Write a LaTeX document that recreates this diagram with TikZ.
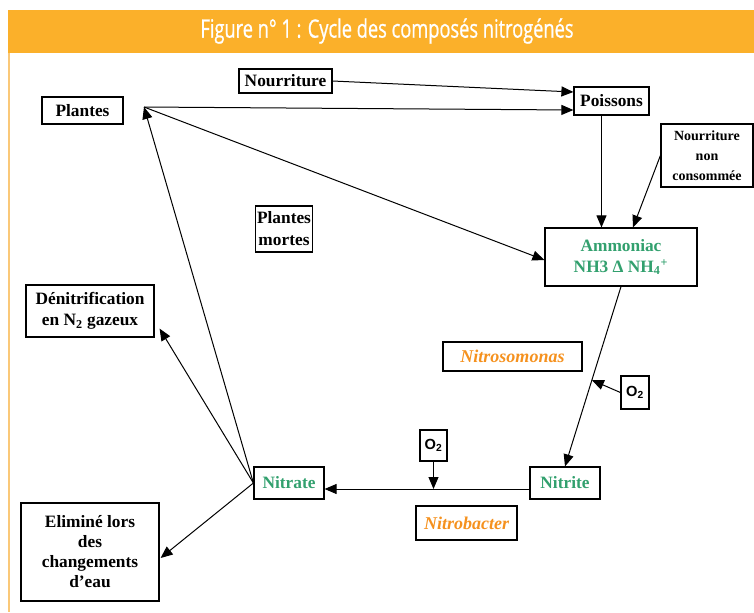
\documentclass[tikz,border=0pt]{standalone}
\usepackage{fontspec}
\setmainfont{Liberation Serif}
\setsansfont{Liberation Sans}
\newfontfamily\titlefont[FakeStretch=0.72, FakeBold=0.8]{Open Sans}
\usepackage{tikz}
\usetikzlibrary{calc}
\usetikzlibrary{arrows.meta}
\definecolor{bandorange}{RGB}{251,176,42}
\definecolor{leftline}{RGB}{250,200,120}
\definecolor{nitgreen}{RGB}{50,160,110}
\definecolor{bactorange}{RGB}{245,145,30}
\tikzset{
    box/.style = {rectangle, draw=black, line width=0.9pt, align=center, inner sep=1pt, font=\bfseries\fontsize{13}{15.5}\selectfont},
    boxg/.style = {box, text=nitgreen},
    boxo/.style = {box, text=bactorange, font=\bfseries\itshape\fontsize{13.5}{15.5}\selectfont},
    boxs/.style = {box, font=\sffamily\bfseries\fontsize{11}{13}\selectfont},
    edge/.style = {-{Triangle[length=9pt,width=7.5pt]}, line width=0.75pt},
}

\begin{document}
\begin{tikzpicture}[x=0.75pt, y=-0.75pt]
\useasboundingbox (0,0) rectangle (754,612);
\fill[bandorange] (8,10) rectangle (754,53);
\draw[leftline, line width=1.2pt] (8.7,53) -- (8.7,612);
\node[text=white, font=\titlefont\fontsize{19}{22}\selectfont] at (387,31) (title) {Figure n° 1 : Cycle des composés nitrogénés};
%
\node[box, minimum width=69.75pt, minimum height=18pt] at (285.5,81) (nourr) {Nourriture};
\node[box, minimum width=60.75pt, minimum height=20.25pt] at (82.5,110.5) (plantes) {Plantes};
\node[box, minimum width=56.25pt, minimum height=21pt] at (611.5,101) (poissons) {Poissons};
\node[box, minimum width=69pt, minimum height=47.25pt, font=\bfseries\fontsize{10.5}{15}\selectfont] at (707,155.5) (nnc) {Nourriture\\non\\consommée};
\node[box, minimum width=42pt, minimum height=34.5pt, font=\bfseries\fontsize{13}{16.5}\selectfont] at (284,229) (mortes) {Plantes\\mortes};
\node[boxg, minimum width=114pt, minimum height=43.5pt] at (621,257) (ammon) {Ammoniac\\NH3 Δ NH\textsubscript{4}\textsuperscript{+}};
%
\node[boxo, minimum width=104.25pt, minimum height=21.75pt] at (512.5,356.5) (nitroso) {Nitrosomonas};
\node[boxs, minimum width=21pt, minimum height=24.75pt] at (635,392.5) (o2a) {O\textsubscript{2}};
\node[boxg, minimum width=52.5pt, minimum height=24pt] at (565,483) (nitrite) {Nitrite};
\node[boxs, minimum width=20.25pt, minimum height=23.25pt] at (433.5,445.5) (o2b) {O\textsubscript{2}};
\node[boxo, minimum width=75.75pt, minimum height=25.5pt] at (466.5,523) (nitrobact) {Nitrobacter};
\node[boxg, minimum width=52.5pt, minimum height=24pt] at (289,483) (nitrate) {Nitrate};
%
\node[box, minimum width=96pt, minimum height=39pt] at (90,311) (denit) {Dénitrification\\en N\textsubscript{2} gazeux};
\node[box, minimum width=103.5pt, minimum height=73.5pt, font=\bfseries\fontsize{13}{15}\selectfont] at (90,552) (elim) {Eliminé lors\\des\\changements\\d'eau};
%
\coordinate (hub) at (144,107);
\draw[edge] (nourr.east) -- ($(poissons.west)+(0,-9)$);
\draw[edge] (hub) -- ($(poissons.west)+(0,9)$);
\draw[edge] (hub) -- ($(ammon.west)+(0,3)$);
%
\coordinate (pdown) at ($(poissons.south)+(-10,0)$);
\draw[edge] (pdown) -- (pdown |- ammon.north);
\draw[edge] (nnc.west) -- ($(ammon.north)+(12,0)$);
\draw[edge] (ammon.south) -- (nitrite.north);
\draw[edge] (o2a.west) -- ($(ammon.south)!0.52!(nitrite.north)$);
%
\coordinate (nlink) at ($(nitrite.west)+(0,6)$);
\draw[edge] (nlink) -- (nlink -| nitrate.east);
\draw[edge] (o2b.south) -- (o2b.south |- nlink);
%
\draw[edge] (nitrate.west) -- (hub);
\draw[edge] (nitrate.west) -- ($(denit.south east)+(5,-9)$);
\draw[edge] (nitrate.west) -- ($(elim.east)+(1,6)$);
\end{tikzpicture}
\end{document}
